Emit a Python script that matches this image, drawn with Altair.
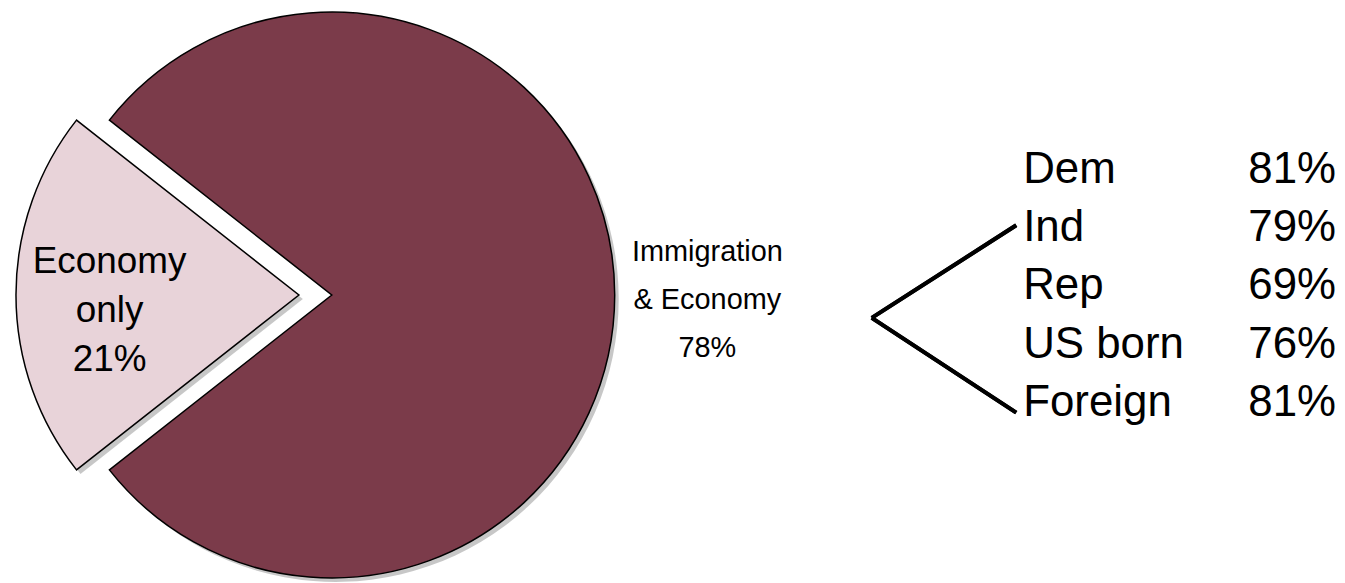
import math
import altair as alt
import pandas as pd

# ---- data ----
slice_labels = ["Economy only", "Immigration & Economy"]
slice_values = [21, 78]
slice_order = [0, 1]
slice_colors = ["#E8D3D9", "#7B3B4A"]
slice_text = ["Economy\nonly\n21%", "Immigration\n& Economy\n78%"]

groups = ["Dem", "Ind", "Rep", "US born", "Foreign"]
group_values = ["81%", "79%", "69%", "76%", "81%"]

pie_df = pd.DataFrame({"label": slice_labels, "value": slice_values,
                       "order": slice_order, "text": slice_text})
grp_df = pd.DataFrame({"group": groups, "pct": group_values})

total = sum(slice_values)
start = 1.5 * math.pi - math.pi * slice_values[0] / total
theta_scale = alt.Scale(domain=[0, total], range=[start, start + 2 * math.pi])
color_scale = alt.Scale(domain=slice_labels, range=slice_colors)

FONT = "Liberation Sans"
R = 284

base = (
    alt.Chart(pie_df)
    .transform_window(end="sum(value)", sort=[{"field": "order"}], frame=[None, 0])
    .transform_calculate(start="datum.end - datum.value")
)

def arc_layer(label, cx, cy, shadow=False):
    b = base.transform_filter(alt.datum.label == label)
    if shadow:
        return b.mark_arc(outerRadius=R, color="#000000", opacity=0.22).encode(
            theta=alt.Theta("start:Q", scale=theta_scale),
            theta2="end:Q",
            x=alt.value(cx + 4), y=alt.value(cy + 4),
        )
    return b.mark_arc(outerRadius=R, stroke="black", strokeWidth=1.5).encode(
        theta=alt.Theta("start:Q", scale=theta_scale),
        theta2="end:Q",
        color=alt.Color("label:N", scale=color_scale, legend=None),
        x=alt.value(cx), y=alt.value(cy),
    )

main_cx, main_cy = 325, 284
small_cx, small_cy = 292, 284

shadow_main = arc_layer(slice_labels[1], main_cx, main_cy, shadow=True)
shadow_small = arc_layer(slice_labels[0], small_cx, small_cy, shadow=True)
arc_main = arc_layer(slice_labels[1], main_cx, main_cy)
arc_small = arc_layer(slice_labels[0], small_cx, small_cy)

small_label = (
    alt.Chart(pie_df).transform_filter(alt.datum.label == slice_labels[0])
    .mark_text(font=FONT, fontSize=37, lineBreak="\n", lineHeight=49,
               align="center", baseline="middle", color="black")
    .encode(text="text:N", x=alt.value(102), y=alt.value(251))
)
main_label = (
    alt.Chart(pie_df).transform_filter(alt.datum.label == slice_labels[1])
    .mark_text(font=FONT, fontSize=29, lineBreak="\n", lineHeight=48,
               align="center", baseline="middle", color="black")
    .encode(text="text:N", x=alt.value(702), y=alt.value(241))
)

conn_up = alt.Chart(pie_df).mark_rule(color="black", strokeWidth=4).encode(
    x=alt.value(867), y=alt.value(307), x2=alt.value(1012), y2=alt.value(214))
conn_down = alt.Chart(pie_df).mark_rule(color="black", strokeWidth=4).encode(
    x=alt.value(867), y=alt.value(307), x2=alt.value(1012), y2=alt.value(402))

yscale = alt.Scale(type="point", domain=groups, range=[159, 392], padding=0)
grp_names = alt.Chart(grp_df).mark_text(
    font=FONT, fontSize=44, align="left", baseline="middle", color="black"
).encode(text="group:N", y=alt.Y("group:N", scale=yscale, axis=None), x=alt.value(1019))
grp_vals = alt.Chart(grp_df).mark_text(
    font=FONT, fontSize=44, align="left", baseline="middle", color="black"
).encode(text="pct:N", y=alt.Y("group:N", scale=yscale, axis=None), x=alt.value(1245))

chart = (
    alt.layer(shadow_main, shadow_small, arc_main, arc_small, small_label, main_label,
              conn_up, conn_down, grp_names, grp_vals)
    .properties(width=1329, height=567, padding=0, background="white")
    .configure_view(stroke=None)
)

chart.save("out.html", embed_options={"renderer": "svg", "actions": False})
